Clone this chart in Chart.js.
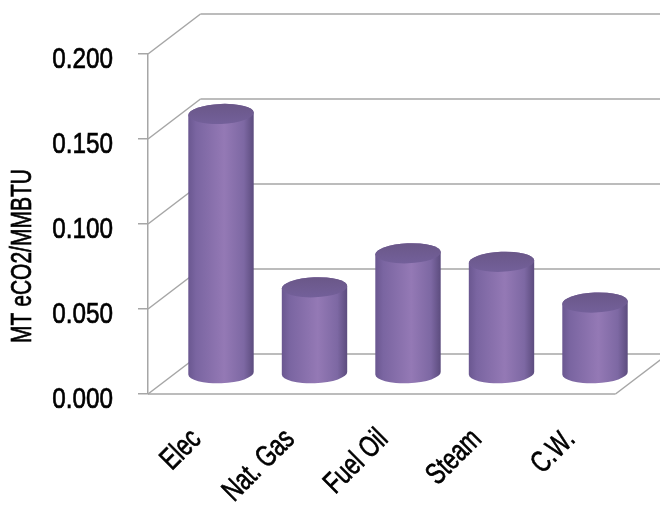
<!DOCTYPE html>
<html>
<head>
<meta charset="utf-8">
<script src="https://cdn.jsdelivr.net/npm/chart.js@4.4.1/dist/chart.umd.min.js"></script>
<style>
  html, body { margin: 0; padding: 0; background: #fff; }
  #wrap { width: 660px; height: 506px; }
</style>
</head>
<body>
<div id="wrap"><canvas id="chart" width="660" height="506"></canvas></div>
<script>
const categories = ['Elec', 'Nat. Gas', 'Fuel Oil', 'Steam', 'C.W.'];
const emissions = [0.153, 0.051, 0.071, 0.066, 0.042];
const yTicks = [0, 0.05, 0.1, 0.15, 0.2];
const yTitle = 'MT eCO2/MMBTU';

const FONT = "30px 'Liberation Sans', Arial, sans-serif";
const GRID = '#a6a6a6';
// depth of the 3d box (back wall offset)
const DX = 52.5;
const DY = -40;

const line = (ctx, x1, y1, x2, y2) => {
  ctx.beginPath();
  ctx.moveTo(x1, y1);
  ctx.lineTo(x2, y2);
  ctx.stroke();
};

// condensed text: the original uses a narrow font we don't have
const narrowText = (ctx, text, px, py, angle, k, align, dy) => {
  ctx.save();
  ctx.translate(px, py);
  ctx.rotate(angle);
  ctx.scale(k, 1);
  ctx.font = FONT;
  ctx.fillStyle = '#000';
  ctx.strokeStyle = '#000';
  ctx.lineWidth = 0.7;
  ctx.textAlign = align;
  ctx.textBaseline = 'alphabetic';
  ctx.fillText(text, 0, dy);
  ctx.strokeText(text, 0, dy);
  ctx.restore();
};

const boxPlugin = {
  id: 'box3d',
  beforeDatasetsDraw: (chart) => {
    const { ctx, chartArea: a, scales } = chart;
    const y = scales.y;
    ctx.save();
    ctx.strokeStyle = GRID;
    ctx.lineWidth = 1.5;
    yTicks.forEach((v) => {
      const py = y.getPixelForValue(v);
      line(ctx, a.left, py, a.left + DX, py + DY);
      line(ctx, a.left + DX, py + DY, chart.width + 10, py + DY);
    });
    // floor
    const p0 = y.getPixelForValue(0);
    line(ctx, a.left, p0, a.right, p0);
    line(ctx, a.right, p0, a.right + DX, p0 + DY);
    ctx.restore();
  },
  afterDatasetsDraw: (chart) => {
    const { ctx } = chart;
    const meta = chart.getDatasetMeta(0);
    ctx.save();
    meta.data.forEach((bar) => {
      const { x, y, base, width } = bar.getProps(['x', 'y', 'base', 'width'], true);
      const cx = x + DX / 2;
      const topY = y + DY / 2;
      const baseY = base + DY / 2;
      const rx = width / 2;
      const ry = 10;
      const rot = -0.04;

      // side
      const side = ctx.createLinearGradient(cx - rx, 0, cx + rx, 0);
      side.addColorStop(0, '#6a5790');
      side.addColorStop(0.12, '#7a65a1');
      side.addColorStop(0.55, '#9479b5');
      side.addColorStop(0.85, '#7d68a3');
      side.addColorStop(1, '#5c4c7e');
      ctx.beginPath();
      ctx.ellipse(cx, baseY, rx, ry, rot, Math.PI, 0, true);
      ctx.ellipse(cx, topY, rx, ry, rot, 0, Math.PI, true);
      ctx.closePath();
      ctx.fillStyle = side;
      ctx.fill();

      // top
      const top = ctx.createLinearGradient(0, topY - ry, 0, topY + ry);
      top.addColorStop(0, '#6a5788');
      top.addColorStop(1, '#73609a');
      ctx.beginPath();
      ctx.ellipse(cx, topY, rx, ry, rot, 0, Math.PI * 2);
      ctx.fillStyle = top;
      ctx.fill();
    });
    ctx.restore();
  },
  afterDraw: (chart) => {
    const { ctx, scales } = chart;
    // value labels
    yTicks.forEach((v) => {
      narrowText(ctx, v.toFixed(3), 113, scales.y.getPixelForValue(v) + 14, 0, 0.81, 'right', 0);
    });
    // category labels, 45 degrees
    categories.forEach((c, i) => {
      narrowText(ctx, c, scales.x.getPixelForTick(i), 433, -Math.PI / 4, 0.74, 'right', 10.7);
    });
    // axis title
    narrowText(ctx, yTitle, 20.5, 256, -Math.PI / 2, 0.7, 'center', 10.7);
  },
};

new Chart(document.getElementById('chart'), {
  type: 'bar',
  data: {
    labels: categories,
    datasets: [
      {
        data: emissions,
        backgroundColor: 'rgba(0,0,0,0)',
        borderWidth: 0,
        barPercentage: 0.7,
        categoryPercentage: 1,
      },
    ],
  },
  plugins: [boxPlugin],
  options: {
    responsive: false,
    animation: false,
    layout: {
      padding: { top: 54, right: 44.5, left: 0, bottom: 0 },
    },
    plugins: {
      legend: { display: false },
      tooltip: { enabled: false },
    },
    scales: {
      x: {
        afterFit: (s) => {
          s.height = 112;
        },
        grid: { display: false },
        border: { display: false },
        ticks: { display: false },
      },
      y: {
        min: 0,
        max: 0.2,
        afterFit: (s) => {
          s.width = 148;
        },
        afterBuildTicks: (s) => {
          s.ticks = yTicks.map((v) => ({ value: v }));
        },
        grid: {
          drawOnChartArea: false,
          tickLength: 10,
          color: GRID,
          lineWidth: 1.5,
        },
        border: { display: true, color: GRID, width: 1.5 },
        ticks: { display: false },
      },
    },
  },
});
</script>
</body>
</html>
